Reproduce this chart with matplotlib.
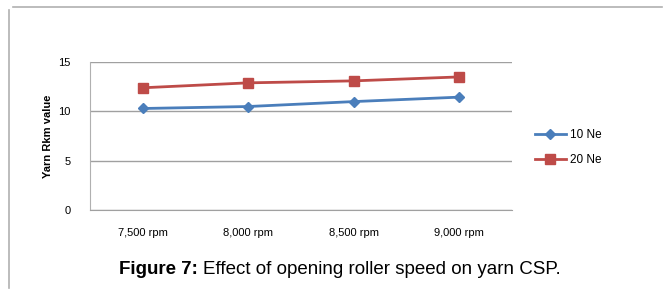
import numpy as np
import matplotlib
matplotlib.use("Agg")
import matplotlib.pyplot as plt
from matplotlib.lines import Line2D

# 数据：开松辊速度对成纱强力的影响
speeds = ["7,500 rpm", "8,000 rpm", "8,500 rpm", "9,000 rpm"]
ne10 = [10.3, 10.5, 11.0, 11.45]
ne20 = [12.4, 12.9, 13.1, 13.5]

plt.rcParams["font.family"] = ["Liberation Sans", "DejaVu Sans"]

fig = plt.figure(figsize=(6.63, 2.89), dpi=100)
ax = fig.add_axes([0.1357, 0.273, 0.636, 0.512])

x = np.arange(len(speeds))
ax.plot(x, ne10, color="#4a7ebb", marker="D", markersize=5, linewidth=2, label="10 Ne")
ax.plot(x, ne20, color="#be4b48", marker="s", markersize=7, linewidth=2, label="20 Ne")

ax.set_xlim(-0.5, 3.5)
ax.set_ylim(0, 15)
ax.set_yticks([0, 5, 10, 15])
ax.set_xticks(x)
ax.set_xticklabels(speeds, fontsize=8)
ax.tick_params(axis="y", labelsize=8, length=0, pad=14)
ax.tick_params(axis="x", length=0, pad=13)
ax.yaxis.grid(True, color="#a0a0a0", linewidth=1)
ax.set_axisbelow(True)
for s in ["top", "right"]:
    ax.spines[s].set_visible(False)
ax.spines["left"].set_color("#b0b0b0")
ax.spines["bottom"].set_color("#a0a0a0")
ax.set_ylabel("Yarn Rkm value", fontsize=8, fontweight="bold", labelpad=4)

ax.legend(loc="center left", bbox_to_anchor=(1.03, 0.42), frameon=False,
          fontsize=8.5, handlelength=2.6, labelspacing=1.1, handletextpad=0.4)

# 图注：粗体部分 + 普通部分，按实际宽度拼接
cap_y = 0.052
t1 = fig.text(0.180, cap_y, "Figure 7:", fontsize=13.5, fontweight="bold")
fig.canvas.draw()
bb = t1.get_window_extent(fig.canvas.get_renderer())
x2 = (bb.x1 + 5) / fig.bbox.width
fig.text(x2, cap_y, "Effect of opening roller speed on yarn CSP.", fontsize=13.5)

# 外框（左边和上边）
fig.add_artist(Line2D([0.014, 0.014], [0.005, 0.965], color="#b0b0b0", linewidth=1.2))
fig.add_artist(Line2D([0.020, 0.998], [0.975, 0.975], color="#b0b0b0", linewidth=1.2))

fig.savefig("out.png", dpi=100)
